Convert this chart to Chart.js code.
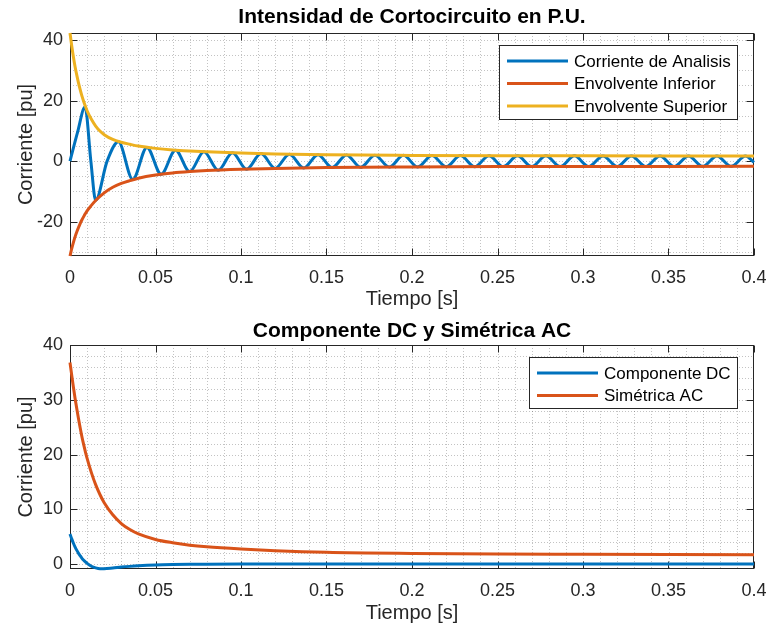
<!DOCTYPE html>
<html>
<head>
<meta charset="utf-8">
<title>Cortocircuito</title>
<script src="https://cdn.jsdelivr.net/npm/chart.js@4.4.1/dist/chart.umd.min.js"></script>
<style>
  html, body { margin: 0; padding: 0; background: #fff; overflow: hidden; }
  .panel { position: absolute; left: 0; }
</style>
</head>
<body>
<div class="panel" style="top:0"><canvas id="topChart" width="768" height="318"></canvas></div>
<div class="panel" style="top:318px"><canvas id="bottomChart" width="768" height="311"></canvas></div>
<script>
// tiempos de las envolventes y componentes (s)
const timeEnv = [0, 0.001, 0.002, 0.003, 0.004, 0.005, 0.006, 0.007, 0.008, 0.009, 0.010, 0.0125, 0.015, 0.0175, 0.020,
  0.025, 0.030, 0.035, 0.040, 0.050, 0.060, 0.070, 0.080, 0.100, 0.120, 0.150, 0.200, 0.250, 0.300, 0.350, 0.400];
const envSuperior = [42.3, 38.1, 34.4, 31.1, 28.3, 25.75, 23.5, 21.45, 19.7, 18.1, 16.62, 13.8, 11.6, 9.95, 8.75,
  7.18, 6.25, 5.58, 4.98, 4.22, 3.7, 3.35, 3.08, 2.7, 2.4, 2.1, 1.9, 1.8, 1.75, 1.72, 1.7];
const envInferior = [-31.3, -28.9, -26.8, -24.9, -23.3, -21.85, -20.5, -19.35, -18.3, -17.3, -16.38, -14.6, -13.0, -11.65, -10.45,
  -8.62, -7.35, -6.42, -5.62, -4.58, -3.9, -3.45, -3.12, -2.7, -2.4, -2.1, -1.9, -1.8, -1.75, -1.72, -1.7];
const compDC = [5.5, 4.6, 3.8, 3.1, 2.5, 1.95, 1.5, 1.05, 0.7, 0.4, 0.12, -0.4, -0.7, -0.85, -0.85,
  -0.72, -0.55, -0.42, -0.32, -0.18, -0.1, -0.05, -0.02, 0, 0, 0, 0, 0, 0, 0, 0];
const simetricaAC = [36.8, 34.5, 32.3, 30.2, 28.3, 26.5, 24.8, 23.2, 21.8, 20.5, 19.3, 16.7, 14.5, 12.7, 11.2,
  9.0, 7.4, 6.3, 5.5, 4.5, 3.9, 3.45, 3.15, 2.75, 2.45, 2.15, 1.95, 1.85, 1.8, 1.75, 1.7];

// corriente de analisis: picos y valles
const timeCorr = [0, 0.0044, 0.0088, 0.0122, 0.0150, 0.0217, 0.0283, 0.0367, 0.0450, 0.0533, 0.0617, 0.0700,
  0.0783, 0.0867, 0.0950, 0.1033, 0.1117, 0.1200, 0.1283, 0.1367, 0.1450, 0.1533, 0.1617, 0.1700, 0.1783, 0.1867,
  0.1950, 0.2033, 0.2117, 0.2200, 0.2283, 0.2367, 0.2450, 0.2533, 0.2617, 0.2700, 0.2783, 0.2867, 0.2950, 0.3033,
  0.3117, 0.3200, 0.3283, 0.3367, 0.3450, 0.3533, 0.3617, 0.3700, 0.3783, 0.3867, 0.3950, 0.4000];
const corrAnalisis = [0, 9.5, 17.9, 0, -12.9, 0, 6.4, -6.0, 4.55, -4.3, 3.6, -3.45,
  3.12, -2.98, 2.8, -2.65, 2.52, -2.4, 2.32, -2.23, 2.15, -2.09, 2.05, -2.02, 1.99, -1.95,
  1.92, -1.89, 1.88, -1.86, 1.84, -1.83, 1.81, -1.8, 1.79, -1.78, 1.77, -1.77, 1.76, -1.75,
  1.74, -1.74, 1.73, -1.73, 1.72, -1.72, 1.71, -1.71, 1.71, -1.7, 1.7, -0.4];

const xTicks = [0, 0.05, 0.1, 0.15, 0.2, 0.25, 0.3, 0.35, 0.4];
const yTicksTop = [-20, 0, 20, 40];
const yTicksBottom = [0, 10, 20, 30, 40];

const FONT = '"Liberation Sans", Arial, Helvetica, sans-serif';
const AXIS_COLOR = '#262626';
const BLUE = '#0072BD', ORANGE = '#D95319', YELLOW = '#EDB120';

const pts = (xs, ys) => xs.map((x, i) => ({x: x, y: ys[i]}));

// grilla punteada, caja y marcas interiores estilo matlab
const matlabAxes = {
  id: 'matlabAxes',
  beforeDatasetsDraw(chart, args, opts) {
    const {ctx, chartArea: a, scales: {x, y}} = chart;
    ctx.save();
    ctx.lineWidth = 1;
    ctx.strokeStyle = 'rgba(38,38,38,0.28)';
    ctx.setLineDash([1, 2]);
    const nx = Math.round((x.max - x.min) / opts.xMinor);
    for (let i = 1; i < nx; i++) {
      const px = Math.round(x.getPixelForValue(x.min + i * opts.xMinor)) + 0.5;
      ctx.beginPath(); ctx.moveTo(px, a.top); ctx.lineTo(px, a.bottom); ctx.stroke();
    }
    for (let v = Math.ceil(y.min / opts.yMinor) * opts.yMinor; v < y.max; v += opts.yMinor) {
      const py = Math.round(y.getPixelForValue(v)) + 0.5;
      ctx.beginPath(); ctx.moveTo(a.left, py); ctx.lineTo(a.right, py); ctx.stroke();
    }
    ctx.setLineDash([]);
    ctx.strokeStyle = AXIS_COLOR;
    const L = Math.round(a.left) + 0.5, R = Math.round(a.right) - 0.5;
    const T = Math.round(a.top) + 0.5, B = Math.round(a.bottom) - 0.5;
    ctx.strokeRect(L, T, R - L, B - T);
    const tl = 7;
    ctx.beginPath();
    x.ticks.forEach(t => {
      const px = Math.round(x.getPixelForValue(t.value)) + 0.5;
      ctx.moveTo(px, B); ctx.lineTo(px, B - tl);
      ctx.moveTo(px, T); ctx.lineTo(px, T + tl);
    });
    y.ticks.forEach(t => {
      const py = Math.round(y.getPixelForValue(t.value)) + 0.5;
      ctx.moveTo(L, py); ctx.lineTo(L + tl, py);
      ctx.moveTo(R, py); ctx.lineTo(R - tl, py);
    });
    ctx.stroke();
    ctx.restore();
  },
  afterDraw(chart, args, opts) {
    // titulo centrado sobre el area de los ejes
    const {ctx, chartArea: a} = chart;
    ctx.save();
    ctx.font = 'bold 21px ' + FONT;
    ctx.fillStyle = '#000';
    ctx.textAlign = 'center';
    ctx.textBaseline = 'middle';
    ctx.fillText(opts.title, (a.left + a.right) / 2, opts.titleY);
    ctx.restore();
  }
};

// leyenda dentro del area, esquina superior derecha
const insideLegend = {
  id: 'insideLegend',
  afterDatasetsDraw(chart) {
    const {ctx, chartArea: a} = chart;
    const items = chart.data.datasets;
    ctx.save();
    ctx.font = '17px ' + FONT;
    const tw = Math.max(...items.map(d => ctx.measureText(d.label).width));
    const w = Math.round(75 + tw + 6);
    const rowH = 22.5;
    const h = Math.round(16 + (items.length - 1) * rowH + 12.5);
    const right = Math.round(a.right) - 17, top = Math.round(a.top) + 12, left = right - w;
    ctx.fillStyle = '#fff';
    ctx.fillRect(left, top, w, h);
    ctx.strokeStyle = AXIS_COLOR;
    ctx.lineWidth = 1;
    ctx.strokeRect(left + 0.5, top + 0.5, w, h);
    items.forEach((d, i) => {
      const yy = top + 16 + i * rowH;
      ctx.strokeStyle = d.borderColor;
      ctx.lineWidth = 3;
      ctx.beginPath(); ctx.moveTo(left + 8, yy); ctx.lineTo(left + 69, yy); ctx.stroke();
      ctx.fillStyle = '#000';
      ctx.textBaseline = 'middle';
      ctx.textAlign = 'left';
      ctx.fillText(d.label, left + 75, yy + 1);
    });
    ctx.restore();
  }
};

function lineSet(label, data, color, order) {
  return {
    label: label, data: data, borderColor: color, backgroundColor: color,
    borderWidth: 3, pointRadius: 0, fill: false, order: order,
    cubicInterpolationMode: 'monotone', clip: 3
  };
}

function makeOptions(cfg) {
  return {
    responsive: false,
    devicePixelRatio: 1,
    animation: false,
    events: [],
    layout: {padding: {left: 0, right: 14, top: cfg.top, bottom: 0}},
    plugins: {
      legend: {display: false},
      tooltip: {enabled: false},
      title: {display: false},
      matlabAxes: cfg.axes
    },
    scales: {
      x: {
        type: 'linear', min: 0, max: 0.4,
        afterBuildTicks: s => { s.ticks = xTicks.map(v => ({value: v})); },
        afterFit: s => { s.height = cfg.xHeight; s.paddingLeft = 0; s.paddingRight = 0; },
        ticks: {
          color: AXIS_COLOR, padding: 11, maxRotation: 0, autoSkip: false,
          font: {family: FONT, size: 18},
          callback: v => String(Number(v.toFixed(2)))
        },
        grid: {display: false, drawTicks: false},
        border: {display: false},
        title: {display: true, text: 'Tiempo [s]', color: AXIS_COLOR,
          font: {family: FONT, size: 20}, padding: {top: 0, bottom: cfg.xTitlePad}}
      },
      y: {
        type: 'linear', min: cfg.yMin, max: cfg.yMax,
        afterBuildTicks: s => { s.ticks = cfg.yTicks.map(v => ({value: v})); },
        afterFit: s => { s.width = 70; s.paddingTop = 0; s.paddingBottom = 0; },
        ticks: {color: AXIS_COLOR, padding: 7, font: {family: FONT, size: 18}, includeBounds: false,
          callback: v => String(v)},
        grid: {display: false, drawTicks: false},
        border: {display: false},
        title: {display: true, text: 'Corriente [pu]', color: AXIS_COLOR,
          font: {family: FONT, size: 20}, padding: {top: 14, bottom: 0}}
      }
    }
  };
}

new Chart(document.getElementById('topChart'), {
  type: 'line',
  data: {
    datasets: [
      lineSet('Corriente de Analisis', pts(timeCorr, corrAnalisis), BLUE, 3),
      lineSet('Envolvente Inferior', pts(timeEnv, envInferior), ORANGE, 2),
      lineSet('Envolvente Superior', pts(timeEnv, envSuperior), YELLOW, 1)
    ]
  },
  options: makeOptions({
    top: 33, xHeight: 62, xTitlePad: 7, yMin: -31.3, yMax: 42.3, yTicks: yTicksTop,
    axes: {title: 'Intensidad de Cortocircuito en P.U.', titleY: 17, xMinor: 0.01, yMinor: 5}
  }),
  plugins: [matlabAxes, insideLegend]
});

new Chart(document.getElementById('bottomChart'), {
  type: 'line',
  data: {
    datasets: [
      lineSet('Componente DC', pts(timeEnv, compDC), BLUE, 2),
      lineSet('Simétrica AC', pts(timeEnv, simetricaAC), ORANGE, 1)
    ]
  },
  options: makeOptions({
    top: 27, xHeight: 60, xTitlePad: 4, yMin: -0.9, yMax: 40, yTicks: yTicksBottom,
    axes: {title: 'Componente DC y Simétrica AC', titleY: 13, xMinor: 0.01, yMinor: 2}
  }),
  plugins: [matlabAxes, insideLegend]
});
</script>
</body>
</html>
